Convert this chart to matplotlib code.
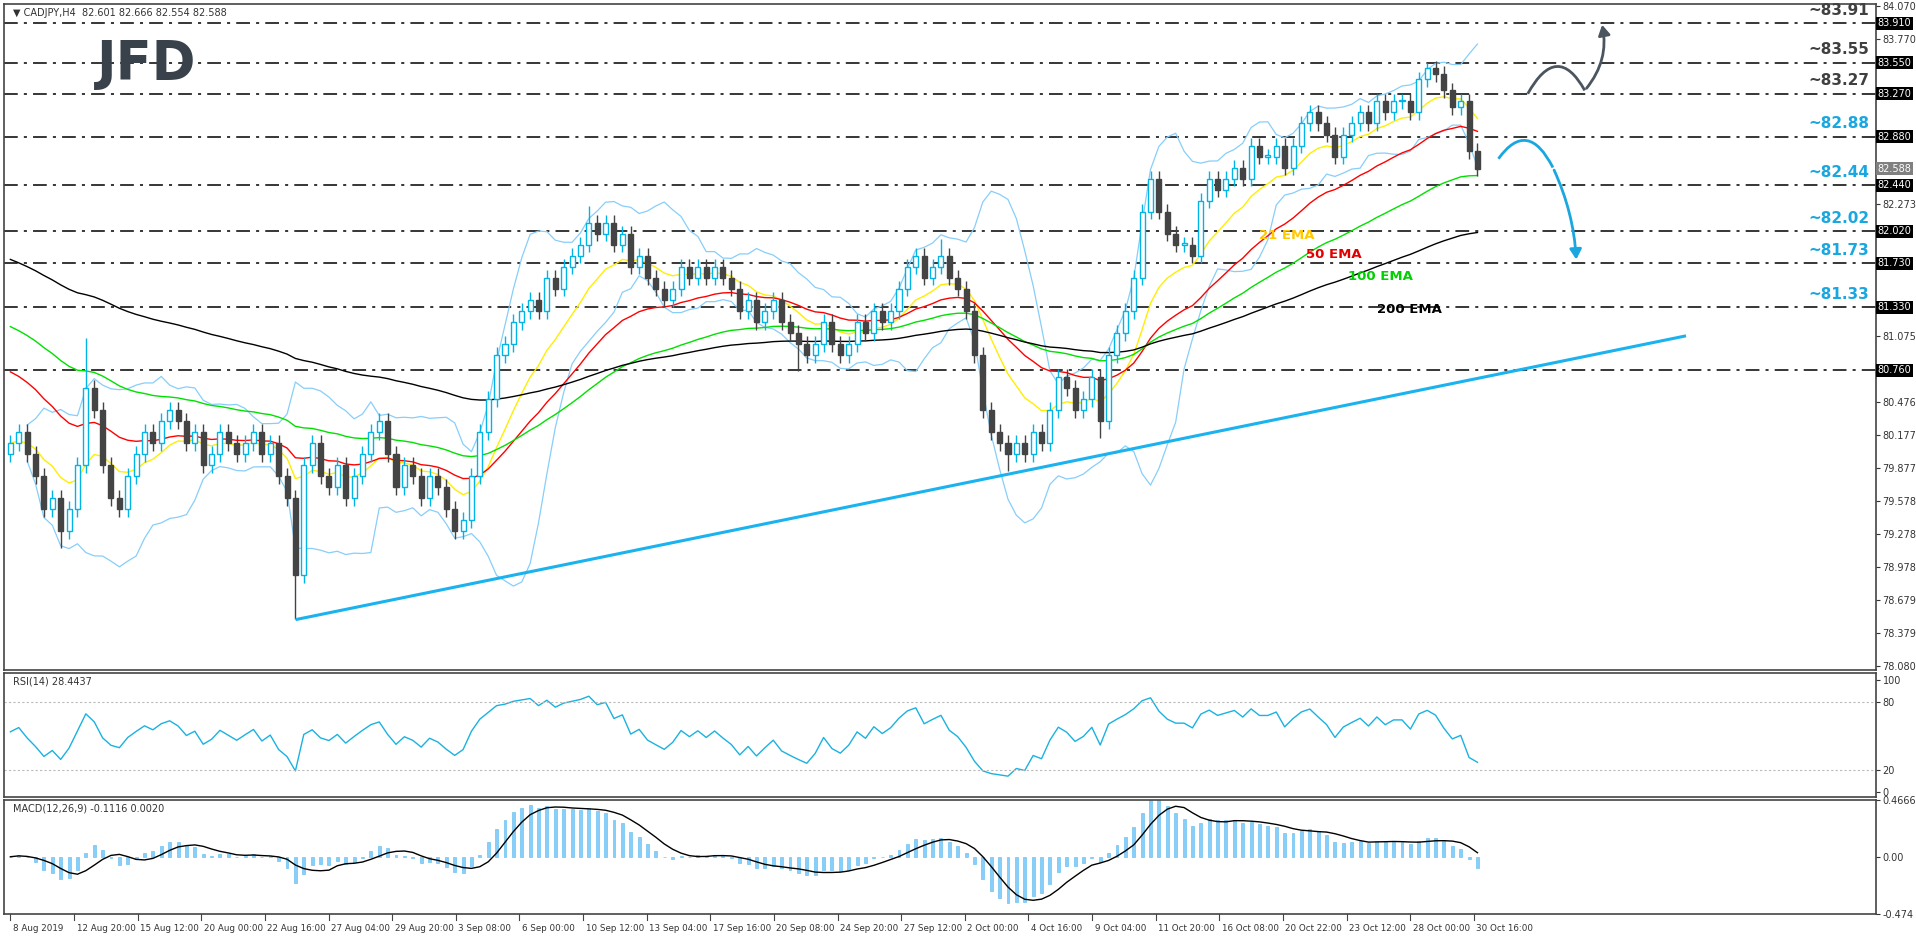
import numpy as np
import pandas as pd
import matplotlib
matplotlib.use("Agg")
import matplotlib.pyplot as plt
from matplotlib.path import Path
from matplotlib.patches import PathPatch, FancyArrowPatch, Rectangle

# CADJPY H4 closes (one value per ~2 bars)
closes = [
    80.1, 80.2, 80.0, 79.8, 79.5, 79.6, 79.3, 79.5, 79.9, 80.6,
    80.4, 79.9, 79.6, 79.5, 79.8, 80.0, 80.2, 80.1, 80.3, 80.4,
    80.3, 80.1, 80.2, 79.9, 80.0, 80.2, 80.1, 80.0, 80.1, 80.2,
    80.0, 80.1, 79.8, 79.6, 78.9, 79.9, 80.1, 79.8, 79.7, 79.9,
    79.6, 79.8, 80.0, 80.2, 80.3, 80.0, 79.7, 79.9, 79.8, 79.6,
    79.8, 79.7, 79.5, 79.3, 79.4, 79.8, 80.2, 80.5, 80.9, 81.0,
    81.2, 81.3, 81.4, 81.3, 81.6, 81.5, 81.7, 81.8, 81.9, 82.1,
    82.0, 82.1, 81.9, 82.0, 81.7, 81.8, 81.6, 81.5, 81.4, 81.5,
    81.7, 81.6, 81.7, 81.6, 81.7, 81.6, 81.5, 81.3, 81.4, 81.2,
    81.3, 81.4, 81.2, 81.1, 81.0, 80.9, 81.0, 81.2, 81.0, 80.9,
    81.0, 81.2, 81.1, 81.3, 81.2, 81.3, 81.5, 81.7, 81.8, 81.6,
    81.7, 81.8, 81.6, 81.5, 81.3, 80.9, 80.4, 80.2, 80.1, 80.0,
    80.1, 80.0, 80.2, 80.1, 80.4, 80.7, 80.6, 80.4, 80.5, 80.7,
    80.3, 80.9, 81.1, 81.3, 81.6, 82.2, 82.5, 82.2, 82.0, 81.9,
    81.9, 81.8, 82.3, 82.5, 82.4, 82.5, 82.6, 82.5, 82.8, 82.7,
    82.7, 82.8, 82.6, 82.8, 83.0, 83.1, 83.0, 82.9, 82.7, 82.9,
    83.0, 83.1, 83.0, 83.2, 83.1, 83.2, 83.2, 83.1, 83.4, 83.5,
    83.45, 83.3, 83.15, 83.2, 82.75, 82.59,
]
first_open = 80.0
wick = 0.07
spike_lows = {6: 79.15, 34: 78.50, 94: 80.75, 119: 79.85, 130: 80.15}
spike_highs = {9: 81.05, 69: 82.25, 111: 81.95, 169: 83.55}

# EMA starting values read at the left edge (periods in H4 bars)
ema_seeds = {21: 80.1, 50: 80.8, 100: 81.2, 200: 81.8}
ema_colors = {21: "#ffee00", 50: "#ff0000", 100: "#00e000", 200: "#000000"}

levels = [83.91, 83.55, 83.27, 82.88, 82.44, 82.02, 81.73, 81.33]
level_colors = ["#404040"] * 3 + ["#1aa7e0"] * 5
extra_level = 80.76
current_price = 82.588

date_labels = ["8 Aug 2019", "12 Aug 20:00", "15 Aug 12:00", "20 Aug 00:00", "22 Aug 16:00",
               "27 Aug 04:00", "29 Aug 20:00", "3 Sep 08:00", "6 Sep 00:00", "10 Sep 12:00",
               "13 Sep 04:00", "17 Sep 16:00", "20 Sep 08:00", "24 Sep 20:00", "27 Sep 12:00",
               "2 Oct 00:00", "4 Oct 16:00", "9 Oct 04:00", "11 Oct 20:00", "16 Oct 08:00",
               "20 Oct 22:00", "23 Oct 12:00", "28 Oct 00:00", "30 Oct 16:00"]

trend_start = (34.2, 78.50)
trend_end = (199.7, 81.07)

BARS_PER_POINT = 2  # each close above stands for two H4 bars

c = np.array(closes)
n = len(c)
idx = np.arange(n)
o = np.concatenate([[first_open], c[:-1]])
hi = np.maximum(o, c) + wick
lo = np.minimum(o, c) - wick
for k, v in spike_lows.items():
    lo[k] = v
for k, v in spike_highs.items():
    hi[k] = v


def ema(x, period, seed):
    a = 2.0 / (period / BARS_PER_POINT + 1)
    out = np.empty(len(x))
    prev = seed
    for i, v in enumerate(x):
        prev = prev + a * (v - prev)
        out[i] = prev
    return out


s = pd.Series(c)
mid = s.rolling(10, min_periods=3).mean()
sd = s.rolling(10, min_periods=3).std(ddof=0)
bb_up, bb_dn = mid + 2 * sd, mid - 2 * sd

# RSI (Wilder), averages started from a neutral state
d = np.diff(c, prepend=first_open)
gain = np.concatenate([[0.1], np.clip(d, 0, None)])
loss = np.concatenate([[0.1], np.clip(-d, 0, None)])
up = pd.Series(gain).ewm(alpha=1 / 7, adjust=False).mean().values[1:]
dn = pd.Series(loss).ewm(alpha=1 / 7, adjust=False).mean().values[1:]
rsi = 100 * up / (up + dn)

# MACD
macd = s.ewm(span=6, adjust=False).mean() - s.ewm(span=13, adjust=False).mean()
signal = macd.rolling(5, min_periods=1).mean()

W, H = 1568.0, 766.0
fig = plt.figure(figsize=(19.16, 9.36), dpi=100)
fig.patch.set_facecolor("white")
left, right = 3 / W, 1535 / W
ax = fig.add_axes([left, 1 - 548 / H, right - left, 545 / H])
ax_r = fig.add_axes([left, 1 - 652 / H, right - left, 101 / H])
ax_m = fig.add_axes([left, 1 - 748 / H, right - left, 93 / H])

xmax = 222.5
y_top = 83.91 + 16 * 0.01109
y_bot = 83.91 - 529 * 0.01109
for a in (ax, ax_r, ax_m):
    a.set_xlim(-0.8, xmax)
    a.set_xticks([])
    a.tick_params(axis="y", right=True, left=False, labelright=True, labelleft=False,
                  labelsize=7, length=3, pad=2, colors="#333333")
    for sp in a.spines.values():
        sp.set_color("#444444")
        sp.set_linewidth(1.2)
ax.set_ylim(y_bot, y_top)

# horizontal levels
for lv in levels + [extra_level]:
    ax.axhline(lv, color="black", lw=1.1, dashes=(9, 4, 2, 4), zorder=1)

# Bollinger bands
ax.plot(idx, bb_up, color="#87cefa", lw=0.9, zorder=2)
ax.plot(idx, bb_dn, color="#87cefa", lw=0.9, zorder=2)

# EMAs
for period, seed in ema_seeds.items():
    ax.plot(idx, ema(c, period, seed), color=ema_colors[period], lw=1.0, zorder=3)

# candles
bw = 0.6
for i in idx:
    bull = c[i] >= o[i]
    col = "#00b4e6" if bull else "#444444"
    ax.vlines(i, lo[i], hi[i], color=col, lw=1.0, zorder=4)
    b0, bh = min(o[i], c[i]), max(abs(c[i] - o[i]), 0.012)
    ax.add_patch(Rectangle((i - bw / 2, b0), bw, bh, facecolor="white" if bull else "#444444",
                           edgecolor=col, lw=1.0, zorder=5))

# trendline
ax.plot([trend_start[0], trend_end[0]], [trend_start[1], trend_end[1]],
        color="#1ab2ef", lw=2.2, zorder=6)

# scenario arrows
grey = "#4a5560"
blue = "#1aa7e0"
p = Path([(181.0, 83.27), (184.5, 83.75), (187.8, 83.30)], [Path.MOVETO, Path.CURVE3, Path.CURVE3])
ax.add_patch(PathPatch(p, facecolor="none", edgecolor=grey, lw=2))
ax.add_patch(FancyArrowPatch((187.8, 83.30), (189.8, 83.92), connectionstyle="arc3,rad=0.25",
                             arrowstyle="-|>,head_length=6,head_width=3.5", color=grey, lw=2))
p2 = Path([(177.5, 82.68), (181.0, 83.05), (184.0, 82.60)], [Path.MOVETO, Path.CURVE3, Path.CURVE3])
ax.add_patch(PathPatch(p2, facecolor="none", edgecolor=blue, lw=2))
ax.add_patch(FancyArrowPatch((184.0, 82.60), (186.8, 81.74), connectionstyle="arc3,rad=-0.1",
                             arrowstyle="-|>,head_length=6,head_width=3.5", color=blue, lw=2))

# level labels
for lv, colr in zip(levels, level_colors):
    ax.text(214.5, lv + 0.05, "~%.2f" % lv, color=colr, fontsize=11, fontweight="bold",
            ha="left", va="bottom")

# EMA labels
ax.text(149.0, 81.95, "21 EMA", color="#ffc800", fontsize=9.5, fontweight="bold")
ax.text(154.5, 81.78, "50 EMA", color="#e00000", fontsize=9.5, fontweight="bold")
ax.text(159.5, 81.58, "100 EMA", color="#00d000", fontsize=9.5, fontweight="bold")
ax.text(163.0, 81.28, "200 EMA", color="black", fontsize=9.5, fontweight="bold")

ax.text(0.005, 0.993, "\u25bc CADJPY,H4  82.601 82.666 82.554 82.588", transform=ax.transAxes,
        fontsize=7, color="#333333", va="top")
ax.text(0.05, 0.91, "JFD", transform=ax.transAxes, fontsize=38, fontweight="bold",
        color="#39414b", va="center")

# price axis
ticks = [78.08 + 0.2995 * k for k in range(21)]
boxed = [83.91, 83.55, 83.27, 82.88, 82.44, 82.02, 81.73, 81.33, 80.76, current_price]
show = [t for t in ticks if min(abs(t - b) for b in boxed) > 0.12]
ax.set_yticks(show)
ax.set_yticklabels(["%.3f" % t for t in show])
for b in boxed:
    ax.text(1.001, b, "%.3f" % b, transform=ax.get_yaxis_transform(), fontsize=7, color="white",
            va="center", ha="left",
            bbox=dict(boxstyle="square,pad=0.15", fc="#808080" if b == current_price else "black", ec="none"))

# RSI
ax_r.plot(idx, rsi, color="#1ab2e0", lw=1.0)
ax_r.set_ylim(-4, 106)
for lv in (80, 20):
    ax_r.axhline(lv, color="#bbbbbb", lw=0.8, ls=(0, (2, 2)))
ax_r.set_yticks([0, 20, 80, 100])
ax_r.text(0.005, 0.97, "RSI(14) 28.4437", transform=ax_r.transAxes, fontsize=7, color="#333333", va="top")

# MACD
ax_m.bar(idx, macd, width=0.35, color="#87cefa", edgecolor="#6fc3f0", lw=0.5)
ax_m.plot(idx, signal, color="black", lw=1.0)
ax_m.set_ylim(-0.474, 0.4666)
ax_m.set_yticks([-0.474, 0.0, 0.4666])
ax_m.set_yticklabels(["-0.474", "0.00", "0.4666"])
ax_m.text(0.005, 0.97, "MACD(12,26,9) -0.1116 0.0020", transform=ax_m.transAxes, fontsize=7,
          color="#333333", va="top")

# time axis
pos = np.arange(len(date_labels)) * 7.59
for pp, lab in zip(pos, date_labels):
    ax_m.plot([pp, pp], [-0.474, -0.52], color="#444444", lw=0.8, clip_on=False)
    ax_m.text(pp + 0.3, -0.56, lab, fontsize=6.3, color="#333333", ha="left", va="top", clip_on=False)

fig.savefig("out.png", dpi=100, facecolor="white")
